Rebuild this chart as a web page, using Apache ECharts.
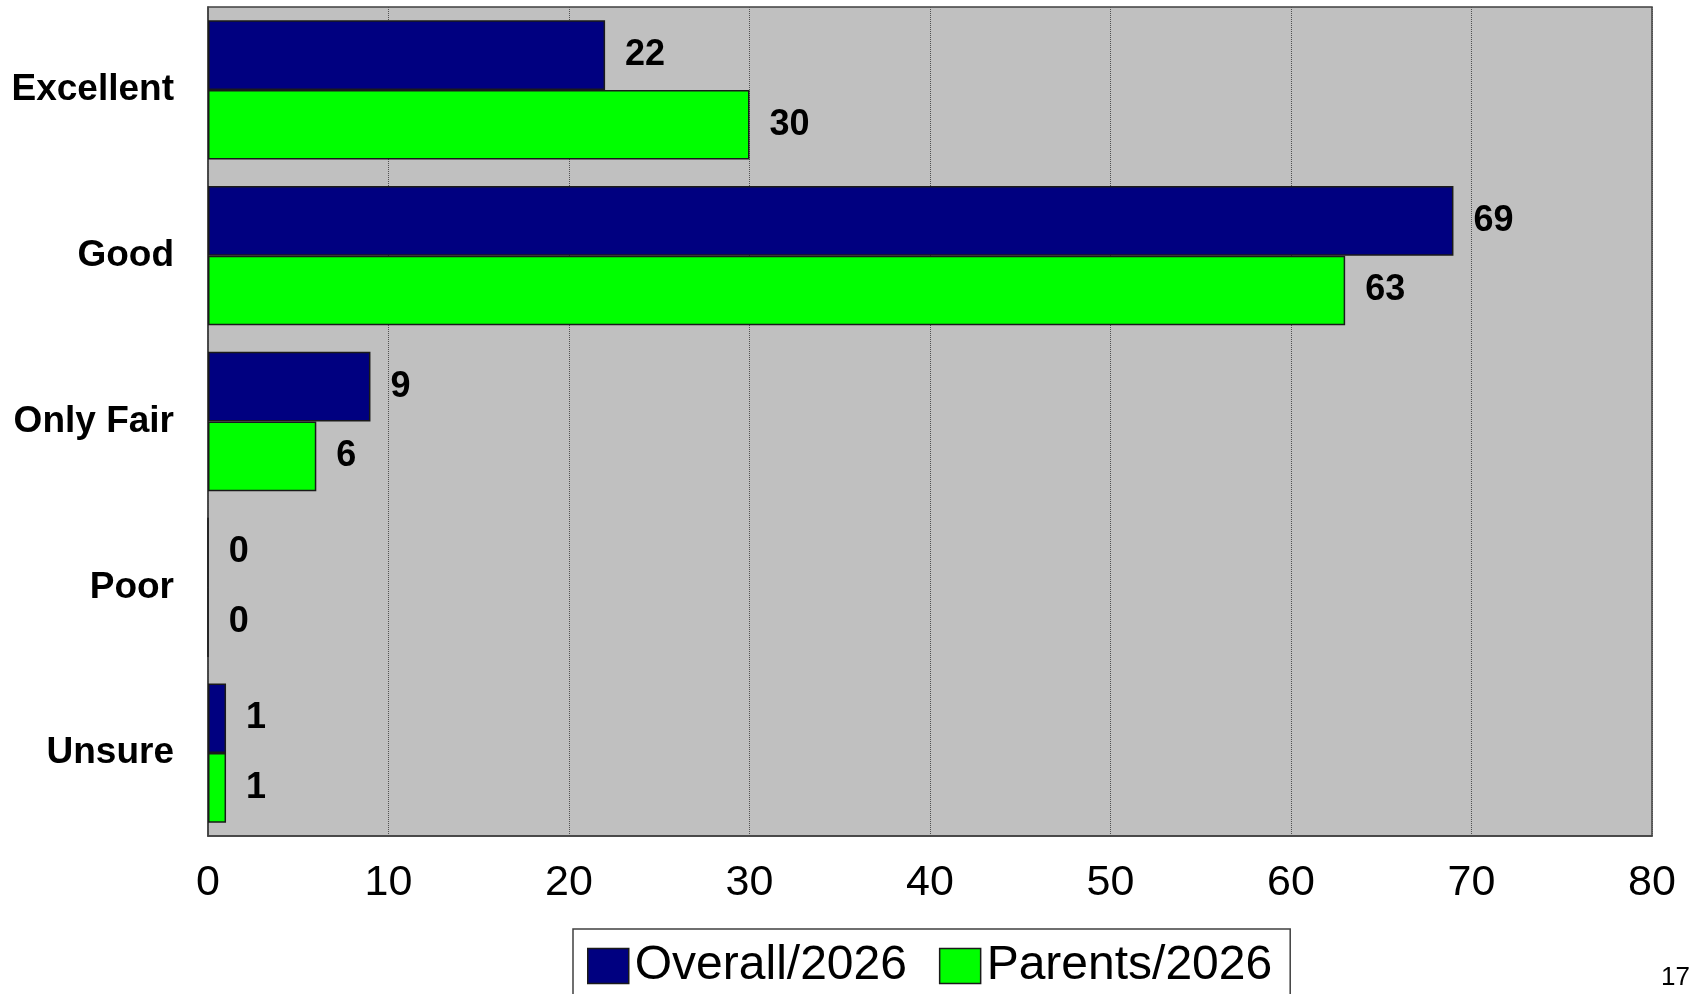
<!DOCTYPE html>
<html>
<head>
<meta charset="utf-8">
<style>
  html, body { margin: 0; padding: 0; background: #ffffff; }
  #chart { width: 1694px; height: 994px; }
</style>
<script src="https://cdn.jsdelivr.net/npm/echarts@6/dist/echarts.min.js"></script>
</head>
<body>
<div id="chart"></div>
<script>
// Survey ratings, percent of respondents
const categories = ['Excellent', 'Good', 'Only Fair', 'Poor', 'Unsure'];
const overall2026 = [22, 69, 9, 0, 1];
const parents2026 = [30, 63, 6, 0, 1];
const seriesNames = ['Overall/2026', 'Parents/2026'];
const xTicks = { min: 0, max: 80, interval: 10 };
const pageNumber = '17';

const chart = echarts.init(document.getElementById('chart'), null, { renderer: 'canvas' });

const valueLabel = {
  show: true,
  position: 'right',
  distance: 20,
  color: '#000000',
  fontFamily: 'Liberation Sans, Arial, sans-serif',
  fontWeight: 'bold',
  fontSize: 36
};

chart.setOption({
  backgroundColor: '#ffffff',
  animation: false,
  grid: {
    left: 208,
    right: 42,
    top: 7,
    bottom: 158,
    show: true,
    backgroundColor: '#c0c0c0',
    borderColor: '#404040',
    borderWidth: 1.5
  },
  xAxis: {
    type: 'value',
    min: xTicks.min,
    max: xTicks.max,
    interval: xTicks.interval,
    axisLine: { show: true, lineStyle: { color: '#404040', width: 1.5 } },
    axisTick: { show: false },
    splitLine: { show: true, lineStyle: { color: '#505050', type: 'dotted', width: 1 } },
    axisLabel: {
      color: '#000000',
      fontFamily: 'Liberation Sans, Arial, sans-serif',
      fontSize: 43,
      margin: 26
    }
  },
  yAxis: {
    type: 'category',
    data: categories,
    inverse: true,
    axisLine: { show: true, lineStyle: { color: '#404040', width: 1.5 } },
    axisTick: { show: false },
    splitLine: { show: false },
    axisLabel: {
      color: '#000000',
      fontFamily: 'Liberation Sans, Arial, sans-serif',
      fontWeight: 'bold',
      fontSize: 37,
      margin: 34
    }
  },
  legend: {
    data: seriesNames,
    left: 573,
    top: 929,
    orient: 'horizontal',
    itemWidth: 41,
    itemHeight: 35,
    itemGap: 32,
    padding: [13, 18, 60, 14],
    borderColor: '#404040',
    borderWidth: 1.5,
    backgroundColor: '#ffffff',
    icon: 'rect',
    itemStyle: { borderColor: '#1a1a1a', borderWidth: 1.5 },
    textStyle: {
      color: '#000000',
      fontFamily: 'Liberation Sans, Arial, sans-serif',
      fontSize: 48,
      padding: [0, 0, 0, 1]
    }
  },
  graphic: [{
    type: 'text',
    right: 4,
    top: 965,
    style: {
      text: pageNumber,
      fill: '#000000',
      font: '26px "Liberation Sans", Arial, sans-serif'
    }
  }],
  series: [
    {
      name: seriesNames[0],
      type: 'bar',
      data: overall2026,
      barGap: '0%',
      barCategoryGap: '16%',
      itemStyle: { color: '#000080', borderColor: '#1a1a1a', borderWidth: 1.5 },
      label: valueLabel
    },
    {
      name: seriesNames[1],
      type: 'bar',
      data: parents2026,
      barGap: '0%',
      barCategoryGap: '16%',
      itemStyle: { color: '#00ff00', borderColor: '#1a1a1a', borderWidth: 1.5 },
      label: valueLabel
    }
  ]
});
</script>
</body>
</html>
